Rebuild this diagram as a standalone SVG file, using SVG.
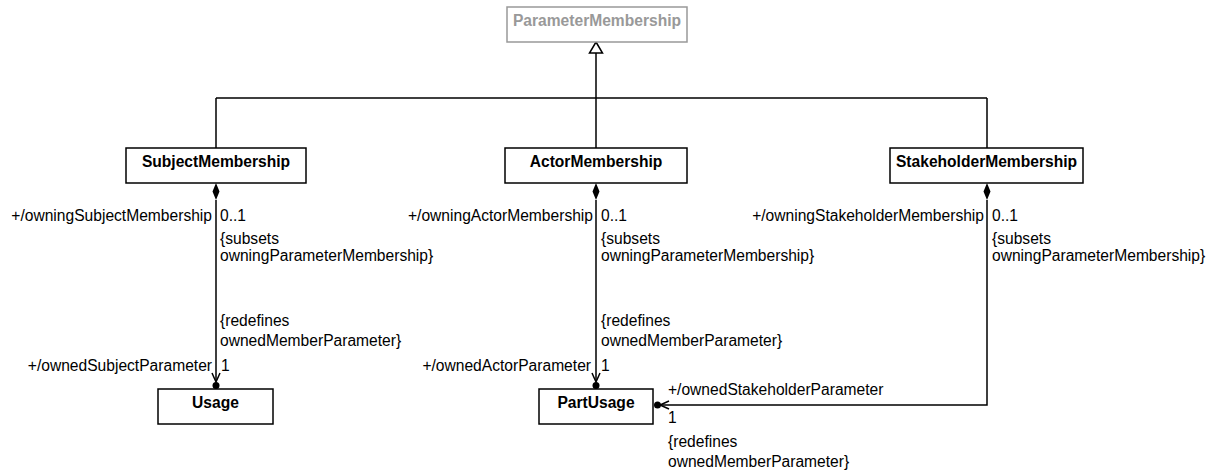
<svg xmlns="http://www.w3.org/2000/svg" width="1212" height="474" viewBox="0 0 1212 474">
<style>
text{font-family:"Liberation Sans",Arial,sans-serif;font-size:15.6px;fill:#000}
.t{font-weight:bold;text-anchor:middle}
.g{fill:#999}
.e{text-anchor:end}
.box{fill:#fff;stroke:#000;stroke-width:1.5}
.gbox{fill:#fff;stroke:#999;stroke-width:1.5}
.ln{fill:none;stroke:#000;stroke-width:1.5}
</style>
<rect width="1212" height="474" fill="#fff"/>
<g id="connectors">
  <path class="ln" d="M596,53 V98 M216,98 H987 M216,98 V148 M596,98 V148 M987,98 V148"/>
  <path d="M596,42 L602.5,53 L589.5,53 Z" fill="#fff" stroke="#000" stroke-width="1.5"/>
  <path class="ln" d="M216,200 V381 M596,200 V381 M987,200 V405 H661"/>
  <path d="M216,183 L219.5,191.5 L216,200 L212.5,191.5 Z M596,183 L599.5,191.5 L596,200 L592.5,191.5 Z M987,183 L990.5,191.5 L987,200 L983.5,191.5 Z" fill="#000"/>
  <path class="ln" d="M212,373 L216,382 L220,373 M592,373 L596,382 L600,373 M669,401 L660,405 L669,409"/>
  <circle cx="216" cy="385.5" r="3.5" fill="#000"/>
  <circle cx="596" cy="385.5" r="3.5" fill="#000"/>
  <circle cx="657.5" cy="405" r="3.5" fill="#000"/>
  <text class="e" x="212" y="221">+/owningSubjectMembership</text>
  <text x="220" y="221">0..1</text>
  <text x="220" y="244">{subsets</text>
  <text x="220" y="261">owningParameterMembership}</text>
  <text x="220" y="326">{redefines</text>
  <text x="220" y="346">ownedMemberParameter}</text>
  <text class="e" x="212" y="371">+/ownedSubjectParameter</text>
  <text x="221" y="371">1</text>
  <text class="e" x="593" y="221">+/owningActorMembership</text>
  <text x="601" y="221">0..1</text>
  <text x="601" y="244">{subsets</text>
  <text x="601" y="261">owningParameterMembership}</text>
  <text x="601" y="326">{redefines</text>
  <text x="601" y="346">ownedMemberParameter}</text>
  <text class="e" x="591" y="371">+/ownedActorParameter</text>
  <text x="601" y="371">1</text>
  <text class="e" x="984" y="221">+/owningStakeholderMembership</text>
  <text x="992" y="221">0..1</text>
  <text x="992" y="244">{subsets</text>
  <text x="992" y="261">owningParameterMembership}</text>
  <text x="668" y="395">+/ownedStakeholderParameter</text>
  <text x="668" y="423">1</text>
  <text x="668" y="447">{redefines</text>
  <text x="668" y="467">ownedMemberParameter}</text>
</g>
<g id="ParameterMembership">
  <rect class="gbox" x="507" y="7" width="180" height="35"/>
  <text class="t g" x="597" y="26">ParameterMembership</text>
</g>
<g id="SubjectMembership">
  <rect class="box" x="126" y="148" width="180" height="35"/>
  <text class="t" x="216" y="167">SubjectMembership</text>
</g>
<g id="ActorMembership">
  <rect class="box" x="505" y="148" width="182" height="35"/>
  <text class="t" x="596" y="167">ActorMembership</text>
</g>
<g id="StakeholderMembership">
  <rect class="box" x="890" y="148" width="193" height="35"/>
  <text class="t" x="986.5" y="167">StakeholderMembership</text>
</g>
<g id="Usage">
  <rect class="box" x="158" y="389" width="115" height="35"/>
  <text class="t" x="215.5" y="408">Usage</text>
</g>
<g id="PartUsage">
  <rect class="box" x="539" y="389" width="114" height="35"/>
  <text class="t" x="596" y="408">PartUsage</text>
</g>
</svg>
